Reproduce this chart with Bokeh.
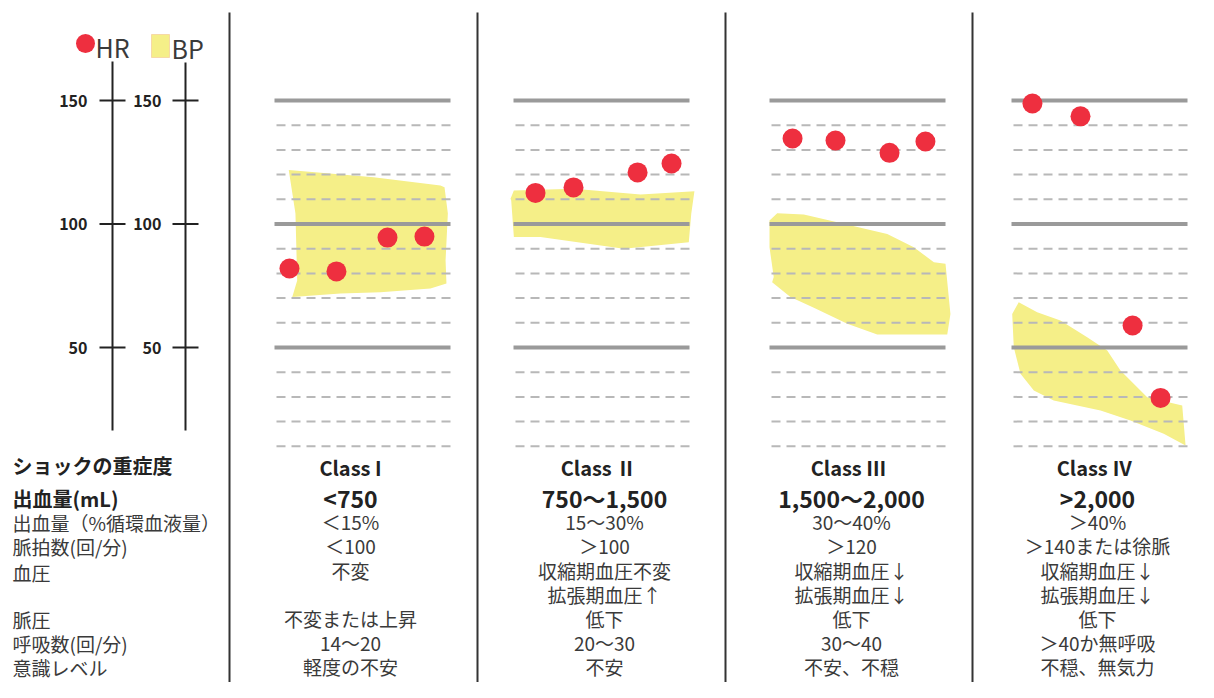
from bokeh.plotting import figure
from bokeh.models import Range1d
from bokeh.core.properties import value
from bokeh.embed import file_html
from bokeh.resources import INLINE

# ---------------- data ----------------
class_names = ["Class I", "Class Ⅱ", "Class Ⅲ", "Class Ⅳ"]
row_labels = ["出血量(mL)", "出血量（%循環血液量）", "脈拍数(回/分)", "血圧", "", "脈圧", "呼吸数(回/分)", "意識レベル"]
blood_loss_ml = ["<750", "750～1,500", "1,500～2,000", ">2,000"]
blood_loss_pct = ["＜15%", "15～30%", "30～40%", "＞40%"]
pulse_rate = ["＜100", "＞100", "＞120", "＞140または徐脈"]
bp_systolic = ["不変", "収縮期血圧不変", "収縮期血圧↓", "収縮期血圧↓"]
bp_diastolic = ["", "拡張期血圧↑", "拡張期血圧↓", "拡張期血圧↓"]
pulse_pressure = ["不変または上昇", "低下", "低下", "低下"]
resp_rate = ["14～20", "20～30", "30～40", "＞40か無呼吸"]
mental = ["軽度の不安", "不安", "不安、不穏", "不穏、無気力"]

axis_ticks = [50, 100, 150]
grid_major = [150, 100, 50]
grid_minor = [140, 130, 120, 110, 90, 80, 70, 60, 40, 30, 20, 10]

# HR measurements: relative time within each class panel, value (bpm)
hr_time = [[0.085, 0.352, 0.642, 0.852],
           [0.125, 0.341, 0.705, 0.898],
           [0.131, 0.375, 0.682, 0.886],
           [0.119, 0.392, 0.688, 0.847]]
hr_values = [[82.0, 80.8, 94.5, 94.9],
             [112.6, 114.8, 120.9, 124.5],
             [134.6, 133.8, 128.8, 133.4],
             [148.8, 143.6, 58.9, 29.6]]

# BP bands: outline (relative time, mmHg)
bp_time = [
    [0.081, 0.563, 0.943, 0.966, 0.985, 0.972, 0.977, 0.886, 0.602, 0.375, 0.101, 0.129, 0.119],
    [-0.017, 0.002, 0.343, 0.722, 1.028, 1.010, 0.996, 0.627, 0.153, 0.002, -0.013],
    [0.0, 0.044, 0.195, 0.385, 0.669, 0.820, 0.934, 1.0, 1.028, 1.010, 0.612, 0.442, 0.252, 0.119, 0.015, 0.024, 0.0],
    [0.004, 0.041, 0.146, 0.278, 0.430, 0.544, 0.619, 0.771, 0.970, 0.989, 0.865, 0.676, 0.506, 0.240, 0.127, 0.051, 0.013],
]
bp_values = [
    [121.9, 118.9, 115.6, 114.9, 104.3, 85.2, 75.9, 73.9, 72.4, 71.9, 70.4, 77.1, 104.3],
    [110.2, 113.6, 114.3, 111.9, 113.3, 104.1, 92.6, 90.0, 94.7, 94.7, 109.5],
    [101.4, 104.4, 103.8, 100.7, 96.0, 90.6, 84.5, 83.9, 63.6, 55.3, 55.3, 59.6, 66.1, 70.4, 76.4, 78.5, 90.6],
    [63.6, 68.3, 64.3, 60.9, 54.2, 48.8, 40.7, 29.9, 26.5, 10.3, 15.1, 20.4, 24.5, 28.5, 32.6, 39.4, 50.1],
]

# ---------------- layout ----------------
W, H = 1198, 682
PX_PER_UNIT = 2.47
Y100 = 223.5


def py(px):
    """screen pixel row -> value units"""
    return 100 + (Y100 - px) / PX_PER_UNIT


FONT = value("Noto Sans CJK JP")
RED = "#EE2F3F"
YEL = "#F5EF88"
TXT = "#3a3a3a"
DARK = "#222222"

p = figure(width=W, height=H, output_backend="svg", toolbar_location=None,
           x_range=Range1d(0, W), y_range=Range1d(py(H), py(0)),
           min_border=0, outline_line_color=None)
p.axis.visible = False
p.grid.visible = False
p.background_fill_color = "white"

panel_left = [274, 513, 769, 1011]
panel_w = 176
col_center = [350, 604, 851, 1097]
title_center = [350, 598, 848, 1094]

# BP bands
xs, ys = [], []
for k in range(4):
    xs.append([panel_left[k] + t * panel_w for t in bp_time[k]])
    ys.append(list(bp_values[k]))
p.patches(xs, ys, fill_color=YEL, line_color=None)

# grid lines per panel
for k in range(4):
    x0, x1 = panel_left[k], panel_left[k] + panel_w
    p.segment(x0=[x0] * len(grid_major), x1=[x1] * len(grid_major), y0=grid_major, y1=grid_major,
              line_color="#9a9a9a", line_width=4)
    p.segment(x0=[x0 + 2] * len(grid_minor), x1=[x1] * len(grid_minor), y0=grid_minor, y1=grid_minor,
              line_color="#b8b8b8", line_width=2, line_dash="9 6")

# HR points
hx, hy = [], []
for k in range(4):
    for t, v in zip(hr_time[k], hr_values[k]):
        hx.append(panel_left[k] + t * panel_w)
        hy.append(v)
p.scatter(hx, hy, size=20, fill_color=RED, line_color=None)

# panel dividers
div_x = [229, 477, 725, 972]
p.segment(x0=div_x, x1=div_x, y0=[py(12)] * 4, y1=[py(700)] * 4, line_color="#333333", line_width=2)

# left axes (HR and BP)
for ax_x, lab_x, top in [(112, 87, 61), (185, 161, 62)]:
    p.segment(x0=[ax_x], x1=[ax_x], y0=[py(top)], y1=[py(430)], line_color=DARK, line_width=2)
    p.segment(x0=[ax_x - 13] * 3, x1=[ax_x + 13] * 3, y0=axis_ticks, y1=axis_ticks,
              line_color=DARK, line_width=2)
    p.text(x=[lab_x] * 3, y=axis_ticks, text=[str(t) for t in axis_ticks], text_font=FONT,
           text_font_style="bold", text_font_size="16px", text_align="right",
           text_baseline="middle", text_color=DARK)

# legend
p.scatter([85], [py(43)], size=19, fill_color=RED, line_color=None)
p.text(x=[95], y=[py(46)], text=["HR"], text_font=FONT, text_font_size="25px",
       text_align="left", text_baseline="middle", text_color=TXT)
p.quad(left=[151], right=[169], top=[py(34)], bottom=[py(57)], fill_color=YEL, line_color="#F6D9A6",
       line_width=1)
p.text(x=[171], y=[py(47)], text=["BP"], text_font=FONT, text_font_size="25px",
       text_align="left", text_baseline="middle", text_color=TXT)

# header row
p.text(x=[12], y=[py(465)], text=["ショックの重症度"], text_font=FONT, text_font_style="bold",
       text_font_size="20px", text_align="left", text_baseline="middle", text_color=DARK)
p.text(x=title_center, y=[py(467)] * 4, text=class_names, text_font=FONT, text_font_style="bold",
       text_font_size="20px", text_align="center", text_baseline="middle", text_color=DARK)

# left row labels
label_y = [498, 522, 546, 572, 595, 619, 643, 667]
p.text(x=[12], y=[py(label_y[0])], text=[row_labels[0]], text_font=FONT, text_font_style="bold",
       text_font_size="20px", text_align="left", text_baseline="middle", text_color=DARK)
p.text(x=[12] * 7, y=[py(v) for v in label_y[1:]], text=row_labels[1:], text_font=FONT,
       text_font_size="19px", text_align="left", text_baseline="middle", text_color=TXT)

# class values
p.text(x=col_center, y=[py(497)] * 4, text=blood_loss_ml, text_font=FONT, text_font_style="bold",
       text_font_size="23px", text_align="center", text_baseline="middle", text_color=DARK)
rows = [blood_loss_pct, pulse_rate, bp_systolic, bp_diastolic, pulse_pressure, resp_rate, mental]
row_y = [521, 545, 570, 594, 618, 642, 666]
for vals, ry in zip(rows, row_y):
    p.text(x=col_center, y=[py(ry)] * 4, text=vals, text_font=FONT, text_font_size="19px",
           text_align="center", text_baseline="middle", text_color=TXT)

open("out.html", "w").write(file_html(p, INLINE))
